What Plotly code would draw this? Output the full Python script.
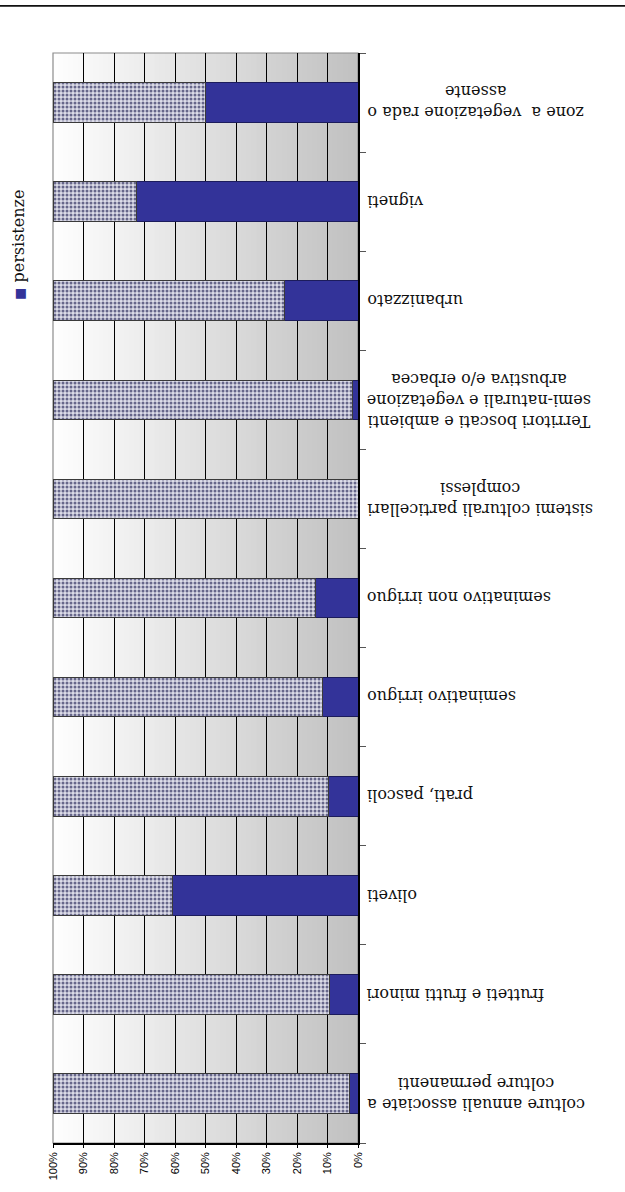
import plotly.graph_objects as go

# Land-use classes (alphabetical; first one is drawn at the bottom)
categories = [
    "colture annuali associate a<br>colture permanenti",
    "frutteti e frutti minori",
    "oliveti",
    "prati, pascoli",
    "seminativo irriguo",
    "seminativo non irriguo",
    "sistemi colturali particellari<br>complessi",
    "Territori boscati e ambienti<br>semi-naturali e vegetazione<br>arbustiva e/o erbacea",
    "urbanizzato",
    "vigneti",
    "zone a  vegetazione rada o<br>assente",
]

# Share of each class that persisted (%)
persistenze = [2.7, 9.3, 60.9, 9.6, 11.5, 13.9, 0.0, 1.8, 24.0, 72.7, 50.0]
# Remaining share up to 100%
altro = [100 - v for v in persistenze]

x_ticks = list(range(0, 101, 10))
x_ticktext = [f"{v}%" for v in x_ticks]

W, H = 625, 1192
ML, MR, MT, MB = 53, 267, 53, 40
plot_w = W - ML - MR
plot_h = H - MT - MB

fig = go.Figure()

fig.add_trace(go.Bar(
    y=categories, x=persistenze, orientation="h", name="persistenze",
    marker=dict(color="#333399", line=dict(color="#1c1c5c", width=1)),
    showlegend=False, hoverinfo="x+y",
))
fig.add_trace(go.Bar(
    y=categories, x=altro, orientation="h", name="altro",
    marker=dict(
        color="#c8c8d8",
        line=dict(color="#3a3a3a", width=1),
        pattern=dict(shape=".", size=4, solidity=0.45,
                     fgcolor="#66668a", bgcolor="#dcdce8", fillmode="replace"),
    ),
    showlegend=False, hoverinfo="x+y",
))

shapes = []
# horizontal white-to-grey gradient behind the grid
n_strips = 60
for i in range(n_strips):
    t0 = i / n_strips
    t1 = (i + 1) / n_strips
    tm = (t0 + t1) / 2
    # tm = 0 at 0% (darker grey), 1 at 100% (white)
    g = int(round(192 + (255 - 192) * tm))
    shapes.append(dict(
        type="rect", xref="x", yref="paper",
        x0=100 * t0, x1=100 * t1 + 0.3, y0=0, y1=1,
        fillcolor=f"rgb({g},{g},{g})", line=dict(width=0), layer="below",
    ))
# grey frame of the plot area
shapes.append(dict(type="rect", xref="paper", yref="paper", x0=0, x1=1, y0=0, y1=1,
                   line=dict(color="#8c8c8c", width=1.2), layer="below"))
# page rule along the top edge
shapes.append(dict(type="line", xref="paper", yref="paper",
                   x0=-ML / plot_w, x1=(W - ML) / plot_w,
                   y0=(plot_h + MT - 5.5) / plot_h, y1=(plot_h + MT - 5.5) / plot_h,
                   line=dict(color="#111111", width=1.6)))

annotations = []
for c in categories:
    annotations.append(dict(
        x=1, xref="paper", y=c, yref="y", xshift=7,
        xanchor="left", yanchor="middle",
        text=c, textangle=180, align="center", showarrow=False,
        font=dict(family="DejaVu Serif", size=16, color="#111111"),
    ))
# legend entry for the persistence series
annotations.append(dict(
    x=(19 - ML) / plot_w, xref="paper", y=(H - MB - 304) / plot_h, yref="paper",
    text="<span style='color:#333399;font-size:13px'>■</span> persistenze",
    textangle=-90, showarrow=False, xanchor="center", yanchor="bottom",
    font=dict(family="DejaVu Serif", size=16, color="#111111"),
))

fig.update_layout(
    width=W, height=H,
    margin=dict(l=ML, r=MR, t=MT, b=MB, pad=0),
    barmode="stack", bargap=0.6,
    paper_bgcolor="white", plot_bgcolor="white",
    shapes=shapes, annotations=annotations,
    xaxis=dict(
        range=[100, 0], tickvals=x_ticks, ticktext=x_ticktext,
        tickangle=-90, tickfont=dict(family="Liberation Sans", size=11, color="#000"),
        showgrid=True, gridcolor="#000000", gridwidth=1,
        showline=True, linecolor="#000000", linewidth=1.5,
        ticks="outside", ticklen=3, tickcolor="#000", zeroline=False,
    ),
    yaxis=dict(
        side="right", showticklabels=False, showgrid=False,
        showline=True, linecolor="#000000", linewidth=1.5,
        ticks="outside", tickson="boundaries", ticklen=6, tickcolor="#555555",
        zeroline=False,
    ),
)

fig.write_html("out.html")
